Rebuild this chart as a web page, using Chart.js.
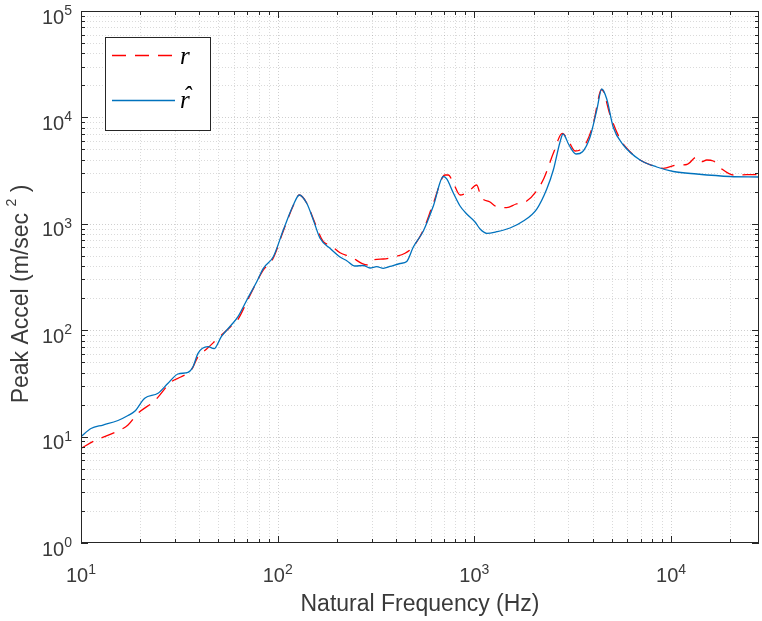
<!DOCTYPE html>
<html>
<head>
<meta charset="utf-8">
<script src="https://cdn.jsdelivr.net/npm/chart.js@4.4.1/dist/chart.umd.min.js"></script>
<style>
  body { margin: 0; background: #fff; }
</style>
</head>
<body>
<canvas id="spectrum" width="762" height="621"></canvas>
<script>
// measured response r (dashed red)
var freqR = [10, 11.74, 15.42, 17.34, 19.49, 23.70, 28.79, 32.36, 36.38, 39.35, 43.37, 49.73, 58.10, 62.84, 70.66,
  84.55, 95.01, 106.8, 120.1, 128.8, 140.5, 151.8, 170.6, 184.5, 207.5, 237.9, 267.5, 288.9, 306.4, 344.5,
  395.0, 444.1, 489.3, 550.3, 618.6, 709.4, 737.4, 781.7, 845.6, 931.6, 1028, 1081, 1201, 1299, 1460,
  1629, 1846, 2059, 2261, 2520, 2801, 3028, 3250, 3446, 3727, 4027, 4355, 4443, 4897, 5504,
  6188, 6956, 8126, 9138, 10690, 12020, 13510, 14330, 15190, 16410, 18110, 20740, 24260, 27790];
var accelR = [7.76, 9.15, 11.29, 12.85, 16.56, 21.75, 32.81, 36.56, 42.26, 56.34, 66.15, 83.93, 109.5, 126.6, 195.2,
  368.0, 477.1, 855.8, 1486, 1865, 1569, 1110, 678.7, 632.0, 535.1, 484.4, 425.4, 410.0, 456.8, 466.8,
  490.7, 528.2, 609.2, 874.5, 1558, 2874, 2874, 2417, 1865, 2003, 2315, 1798, 1602, 1448, 1417,
  1535, 1638, 2003, 2694, 4597, 7088, 5871, 4834, 4940, 5909, 8801, 17330, 18290, 10530, 6266,
  4761, 3978, 3493, 3323, 3570, 3609, 4245, 3833, 3978, 3892, 3274, 2874, 2894, 2907];

// model response r-hat (solid blue)
var freqHat = [10, 11.24, 12.94, 15.42, 17.34, 18.75, 21.08, 24.64, 27.70, 31.13, 35.00, 37.11, 39.35, 44.24, 47.46,
  51.69, 58.10, 62.84, 70.66, 78.26, 84.55, 95.01, 106.8, 120.1, 128.8, 140.5, 151.8, 164.2, 184.5, 207.5,
  224.4, 247.3, 272.5, 294.8, 318.8, 344.5, 372.6, 418.8, 453.0, 489.3, 550.3, 618.6, 695.5, 723.7, 781.7,
  845.6, 914.4, 1008, 1069, 1156, 1299, 1518, 1774, 2076, 2334, 2520, 2726, 2824, 3028, 3288,
  3548, 3874, 4191, 4443, 4710, 5088, 5720, 6956, 8458, 10270, 13510, 19950, 27790];
var accelHat = [10.0, 11.92, 12.85, 14.17, 15.79, 17.29, 22.91, 25.52, 31.69, 38.76, 40.21, 45.39, 60.66, 69.98, 67.02,
  86.89, 111.9, 133.9, 202.1, 285.7, 381.8, 490.7, 874.5, 1502, 1865, 1558, 1086, 730.7, 588.5, 487.5,
  450.0, 401.1, 405.5, 384.3, 395.3, 381.8, 397.0, 423.5, 442.3, 605.3, 855.8, 1470, 2783, 2637, 1948,
  1470, 1236, 1040, 893.6, 814.2, 843.0, 913.1, 1062, 1377, 2124, 3203, 5871, 6982, 5502, 4530,
  4761, 6543, 11740, 18490, 14890, 8036, 5502, 3978, 3418, 3101, 2938, 2783, 2753];

var xTickExp = [1, 2, 3, 4];
var yTickExp = [0, 1, 2, 3, 4, 5];
var xMin = 10, xMax = 28000;
var yMin = 1, yMax = 100000;

var ink = "#262626";
var textInk = "#3a3a3a";
var tickFont = "20px 'Liberation Sans', Arial, sans-serif";
var supFont = "14px 'Liberation Sans', Arial, sans-serif";
var titleFont = "23px 'Liberation Sans', Arial, sans-serif";
var legendFont = "italic 25px 'Liberation Serif', 'DejaVu Serif', serif";

function logSteps(min, max) {
  var out = [];
  var lo = Math.floor(Math.log10(min)), hi = Math.ceil(Math.log10(max));
  for (var e = lo; e <= hi; e++) {
    for (var m = 1; m <= 9; m++) {
      var v = m * Math.pow(10, e);
      if (v >= min * 0.999 && v <= max * 1.001) out.push({ value: v, major: m === 1 });
    }
  }
  return out;
}

function pairUp(xs, ys) {
  return xs.map(function (f, i) { return { x: f, y: ys[i] }; });
}

// draws "10" with a raised exponent, left edge at x0
function powerLabel(ctx, exp, x0, base, supBase) {
  ctx.font = tickFont;
  ctx.fillText("10", x0, base);
  var w = ctx.measureText("10").width;
  ctx.font = supFont;
  ctx.fillText(String(exp), x0 + w, supBase);
}
function powerWidth(ctx, exp) {
  ctx.font = tickFont;
  var w = ctx.measureText("10").width;
  ctx.font = supFont;
  return w + ctx.measureText(String(exp)).width;
}

var matlabAxes = {
  id: "matlabAxes",
  beforeDatasetsDraw: function (chart) {
    var ctx = chart.ctx, a = chart.chartArea, x = chart.scales.x, y = chart.scales.y;
    ctx.save();
    ctx.lineWidth = 1;
    ctx.setLineDash([1, 2]);
    logSteps(xMin, xMax).forEach(function (t) {
      var px = Math.round(x.getPixelForValue(t.value)) + 0.5;
      if (px <= a.left + 1 || px >= a.right - 1) return;
      ctx.strokeStyle = t.major ? "rgba(38,38,38,0.22)" : "rgba(38,38,38,0.17)";
      ctx.beginPath(); ctx.moveTo(px, a.top); ctx.lineTo(px, a.bottom); ctx.stroke();
    });
    logSteps(yMin, yMax).forEach(function (t) {
      var py = Math.round(y.getPixelForValue(t.value)) + 0.5;
      if (py <= a.top + 1 || py >= a.bottom - 1) return;
      ctx.strokeStyle = t.major ? "rgba(38,38,38,0.22)" : "rgba(38,38,38,0.17)";
      ctx.beginPath(); ctx.moveTo(a.left, py); ctx.lineTo(a.right, py); ctx.stroke();
    });
    ctx.restore();
  },
  afterDatasetsDraw: function (chart) {
    var ctx = chart.ctx, a = chart.chartArea, x = chart.scales.x, y = chart.scales.y;
    ctx.save();
    ctx.setLineDash([]);
    ctx.strokeStyle = ink;
    ctx.lineWidth = 1;
    ctx.strokeRect(a.left + 0.5, a.top + 0.5, a.right - a.left - 1, a.bottom - a.top - 1);

    // inward tick marks on all four sides
    logSteps(xMin, xMax).forEach(function (t) {
      var px = Math.round(x.getPixelForValue(t.value)) + 0.5;
      var len = t.major ? 7 : 4;
      ctx.beginPath();
      ctx.moveTo(px, a.bottom); ctx.lineTo(px, a.bottom - len);
      ctx.moveTo(px, a.top); ctx.lineTo(px, a.top + len);
      ctx.stroke();
    });
    logSteps(yMin, yMax).forEach(function (t) {
      var py = Math.round(y.getPixelForValue(t.value)) + 0.5;
      var len = t.major ? 7 : 4;
      ctx.beginPath();
      ctx.moveTo(a.left, py); ctx.lineTo(a.left + len, py);
      ctx.moveTo(a.right, py); ctx.lineTo(a.right - len, py);
      ctx.stroke();
    });

    // tick labels
    ctx.fillStyle = textInk;
    ctx.textBaseline = "alphabetic";
    ctx.textAlign = "left";
    xTickExp.forEach(function (e) {
      var px = x.getPixelForValue(Math.pow(10, e));
      var w = powerWidth(ctx, e);
      powerLabel(ctx, e, px - w / 2, a.bottom + 38.5, a.bottom + 31);
    });
    yTickExp.forEach(function (e) {
      var py = y.getPixelForValue(Math.pow(10, e));
      var w = powerWidth(ctx, e);
      powerLabel(ctx, e, 72 - w, py + 12.5, py + 4);
    });

    // axis titles
    ctx.font = titleFont;
    ctx.textAlign = "center";
    ctx.fillText("Natural Frequency (Hz)", (a.left + a.right) / 2, 611);

    ctx.save();
    ctx.translate(28, 294);
    ctx.rotate(-Math.PI / 2);
    ctx.textAlign = "left";
    var partA = "Peak Accel (m/sec ", partB = "2", partC = " )";
    ctx.font = titleFont;
    var wA = ctx.measureText(partA).width, wC = ctx.measureText(partC).width;
    ctx.font = supFont;
    var wB = ctx.measureText(partB).width;
    var start = -(wA + wB + wC) / 2;
    ctx.font = titleFont;
    ctx.fillText(partA, start, 0);
    ctx.font = supFont;
    ctx.fillText(partB, start + wA, -12);
    ctx.font = titleFont;
    ctx.fillText(partC, start + wA + wB, 0);
    ctx.restore();

    // legend box
    var lx = 105.5, ly = 37.5, lw = 105, lh = 93;
    ctx.fillStyle = "#fff";
    ctx.fillRect(lx, ly, lw, lh);
    ctx.strokeStyle = ink;
    ctx.lineWidth = 1;
    ctx.strokeRect(lx, ly, lw, lh);
    var sets = chart.data.datasets;
    var rows = [55.5, 100.5];
    sets.forEach(function (ds, i) {
      ctx.strokeStyle = ds.borderColor;
      ctx.lineWidth = ds.borderWidth;
      ctx.setLineDash(ds.borderDash || []);
      ctx.beginPath();
      ctx.moveTo(112, rows[i]); ctx.lineTo(175, rows[i]);
      ctx.stroke();
    });
    ctx.setLineDash([]);
    ctx.fillStyle = "#000";
    ctx.font = legendFont;
    ctx.textAlign = "left";
    ctx.fillText("r", 180, 63.5);
    ctx.fillText("r", 180, 107.5);
    ctx.fillText("\u02C6", 183, 104);
    ctx.restore();
  }
};

var plotCanvas = document.getElementById("spectrum");
var spectrumChart = new Chart(plotCanvas, {
  type: "line",
  data: {
    datasets: [
      {
        label: "r",
        data: pairUp(freqR, accelR),
        borderColor: "#ff0000",
        borderWidth: 1.3,
        borderDash: [14, 9],
        pointRadius: 0,
        fill: false,
        cubicInterpolationMode: "monotone",
        order: 2,
      },
      {
        label: "r\u0302",
        data: pairUp(freqHat, accelHat),
        borderColor: "#0072bd",
        borderWidth: 1.3,
        pointRadius: 0,
        fill: false,
        cubicInterpolationMode: "monotone",
        order: 1,
      },
    ],
  },
  options: {
    responsive: false,
    animation: false,
    events: [],
    layout: { padding: { top: 11, right: 3, left: 0, bottom: 0 } },
    plugins: {
      legend: { display: false },
      tooltip: { enabled: false },
    },
    scales: {
      x: {
        type: "logarithmic",
        min: xMin,
        max: xMax,
        grid: { display: false },
        border: { display: false },
        ticks: { display: false },
        afterFit: function (s) { s.height = 78; },
      },
      y: {
        type: "logarithmic",
        min: yMin,
        max: yMax,
        grid: { display: false },
        border: { display: false },
        ticks: { display: false },
        afterFit: function (s) { s.width = 81; },
      },
    },
  },
  plugins: [matlabAxes],
});
</script>
</body>
</html>
